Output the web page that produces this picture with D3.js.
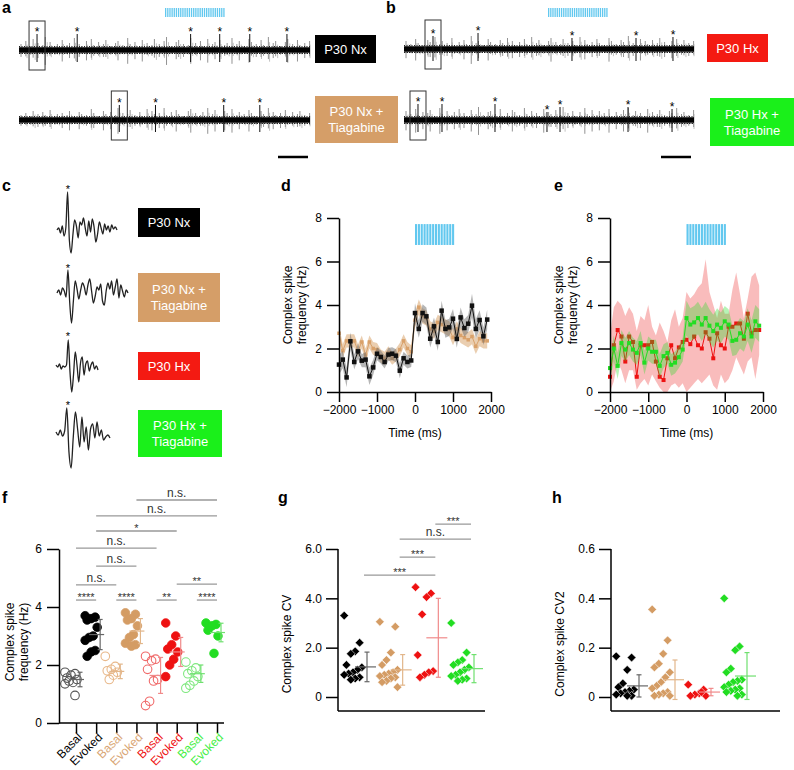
<!DOCTYPE html>
<html><head><meta charset="utf-8">
<script src="https://cdn.jsdelivr.net/npm/d3@7"></script>
<style>body{margin:0;background:#fff}</style>
</head><body>
<script>
// ---------------- DATA ----------------
// Panel a/b: raw traces (simple-spike amplitudes per slot, complex-spike times in ms, cs heights)
const traceNxAmps=[6,9,4,11,7,5,13,8,4,6,10,5,7,12,6,4,9,11,5,8,6,10,4,7,9,5,12,6,8,4,10,7,5,11,6,9,13,4,8,10,6,5,12,7,9,4,11,6,8,10,5,7,12,6,9,4,11,8,6,10,5,13,7,9,4,8,11,6,10,5,7,9];
const traceNxTAmps=[5,7,4,9,6,8,5,10,4,6,7,5,9,4,8,6,5,11,7,4,9,6,8,5,12,7,6,10,5,8,4,11,9,6,7,12,5,8,10,6,4,9,11,7,5,8,12,6,10,4,9,7,11,5,8,6,10,7,4,9,6,12,8,5,7,10,4,8,6,9,5,7];
const traceHxAmps=[8,5,10,6,4,9,7,12,5,8,6,11,4,7,9,5,13,6,8,4,10,7,5,9,6,11,8,4,7,10,5,12,6,9,4,8,11,7,5,10,6,8,4,12,9,5,7,10,6,4,11,8,5,9,7,13,6,4,10,8,5,9,6,11,7,4,8,10,5,9,6,8];
const traceHxTAmps=[9,6,11,5,8,7,10,4,12,6,9,5,8,11,7,4,10,6,13,5,8,9,6,11,4,7,10,8,5,12,6,9,7,4,11,8,6,10,5,13,7,9,4,8,12,6,10,5,9,7,11,4,8,6,10,12,5,9,7,4,11,8,6,10,5,9,7,12,6,8,5,10];
const csNxTimes=[248,800,2359,2759,3172,3683], csNxH=[21,21,21,21,21,21];
const csNxTTimes=[1379,1876,2814,3310], csNxTH=[20,20,20,20];
const csHxTimes=[400,1021,2317,3200,3710], csHxH=[18,21,16,16,17];
const csHxTTimes=[193,524,1255,1972,2152,3090,3697], csHxTH=[21,21,21,13,18,18,16];
const stimTrainTrace=[0,30,60,90,120,150,180,210,240,270,300,330,360,390,420,450,480,510,540,570,600,630,660,690,720,750,780,810];

// Panel c: averaged complex spike waveforms (arbitrary units)
const wfNx=[0,2,-3,4,-6,2,38,-10,-23,-5,10,4,-8,8,5,12,2,-6,9,-2,11,3,-12,-4,8,2,-4,6,0,4,-2,5,1,3,0];
const wfNxT=[0,3,-2,5,2,-4,23,-10,-30,-8,12,4,-6,3,10,6,-2,8,14,2,-10,-3,6,3,9,-8,-12,2,10,4,12,-2,6,14,-5,8,2,-4,3,0];
const wfHx=[2,0,3,-2,1,0,2,27,-5,-25,-8,15,2,-15,4,10,-8,3,6,-4,2,5,-2,1,-3];
const wfHxT=[0,-3,2,-4,1,24,-20,-36,-5,20,3,-15,15,-10,5,-18,3,8,-6,10,-4,2,-8,-5,-3,-6];

// Panels d/e: PSTH
const psthTimes=[-2000,-1900,-1800,-1700,-1600,-1500,-1400,-1300,-1200,-1100,-1000,-900,-800,-700,-600,-500,-400,-300,-200,-100,0,100,200,300,400,500,600,700,800,900,1000,1100,1200,1300,1400,1500,1600,1700,1800,1900];
const stimTrainPsth=[0,75,150,225,300,375,450,525,600,675,750,825,900,975];
const nxMean=[1.26,1.49,0.67,2.33,1.38,1.87,1.44,1.49,0.72,1.13,1.76,1.61,1.38,1.72,1.76,1.67,0.98,1.55,1.38,1.45,3.63,2.9,3.63,3.48,2.45,3.02,2.3,3.74,2.9,2.97,3.37,2.44,3.43,2.94,3.14,3.97,2.9,3.31,2.56,3.33];
const nxSem=[0.45,0.4,0.45,0.4,0.35,0.35,0.3,0.35,0.4,0.35,0.3,0.3,0.3,0.3,0.3,0.3,0.35,0.3,0.3,0.3,0.45,0.4,0.4,0.4,0.4,0.4,0.4,0.45,0.4,0.4,0.45,0.4,0.45,0.4,0.4,0.55,0.45,0.45,0.4,0.45];
const nxTMean=[2.7,1.9,2.35,2.35,2.35,1.9,2.3,1.7,2.3,2.0,1.95,1.65,1.55,1.8,1.55,1.7,1.95,2.35,2.0,1.85,3.3,3.9,3.5,3.4,2.9,2.8,3.2,3.1,3.0,2.9,2.5,2.9,2.6,2.5,2.4,2.55,2.1,2.45,2.35,2.35];
const nxTSem=[0.35,0.3,0.3,0.3,0.3,0.3,0.3,0.3,0.3,0.3,0.3,0.3,0.3,0.3,0.3,0.3,0.3,0.3,0.3,0.3,0.35,0.35,0.35,0.35,0.35,0.35,0.35,0.35,0.35,0.35,0.35,0.35,0.35,0.35,0.35,0.35,0.35,0.35,0.35,0.35];
const hxMean=[0.7,2.15,2.85,2.55,1.4,2.55,2.3,0.7,2.15,2.15,2.15,2.3,1.4,0.7,0.55,1.55,2.15,1.55,2.05,2.3,2.4,2.2,2.55,2.15,2.0,2.75,2.45,1.55,2.7,2.15,2.0,3.0,3.0,3.15,3.15,2.45,3.6,2.7,2.85,2.85];
const hxUpper=[2.6,3.9,4.2,4.0,3.5,3.9,3.6,2.8,3.5,3.3,4.0,3.0,2.6,3.2,2.8,2.3,3.3,3.8,3.0,3.4,4.6,4.3,4.5,4.8,5.0,6.1,4.6,4.0,3.4,4.2,3.6,3.6,4.7,5.5,4.5,3.4,4.3,5.3,5.5,4.9];
const hxLower=[0,0.5,1.4,1.0,0.4,1.0,1.0,0.1,0.4,0.6,0.3,0.8,0.5,0.2,0,0,0.3,0.4,0.2,0.4,0,0.2,0.4,0.6,0.4,0.6,0.8,0.3,0.1,0.8,0.4,0.6,1.0,1.6,1.2,0.8,1.4,1.6,0.6,1.7];
const hxTMean=[1.1,2.0,1.2,2.25,1.95,2.25,1.95,1.8,2.25,1.35,2.0,1.85,1.85,1.2,1.65,1.8,1.25,1.35,1.6,1.95,3.4,3.1,3.2,3.4,3.1,3.4,3.05,2.8,3.1,2.95,3.25,3.1,2.35,2.4,2.7,2.55,3.1,2.55,3.25,3.05];
const hxTSem=[0.6,0.6,0.6,0.6,0.55,0.55,0.55,0.55,0.55,0.55,0.55,0.55,0.55,0.55,0.55,0.5,0.5,0.5,0.5,0.55,0.8,0.75,0.75,0.75,0.75,0.75,0.75,0.75,0.75,0.7,0.7,0.7,0.7,0.7,0.7,0.7,0.75,0.75,0.75,0.75];

// Panel f: complex spike frequency
const fCats=["Basal","Evoked","Basal","Evoked","Basal","Evoked","Basal","Evoked"];
const fValues=[
 [1.75,1.7,1.65,1.55,1.5,1.4,1.45,1.35,0.95],
 [3.7,3.65,3.6,3.55,3.3,3.0,2.95,2.85,2.5,2.45,2.3],
 [2.3,1.95,1.85,1.8,1.75,1.65,1.5],
 [3.8,3.75,3.6,3.55,3.35,3.05,2.95,2.75,2.7,2.65],
 [2.3,2.2,2.15,1.85,1.5,1.45,0.75,0.6],
 [3.45,3.0,2.7,2.55,2.45,2.2,2.0,1.6],
 [2.1,1.9,1.8,1.7,1.6,1.45,1.3,1.2],
 [3.45,3.4,3.35,3.2,3.0,2.4]];
const fMean=[1.5,3.05,1.78,3.17,1.64,2.45,1.7,3.12];
const fSD=[0.25,0.52,0.25,0.43,0.62,0.5,0.3,0.32];
const fSig=[[0,1,4.24,"****"],[2,3,4.24,"****"],[4,5,4.24,"**"],[6,7,4.24,"****"],[0,2,4.76,"n.s."],[5,7,4.79,"**"],[1,3,5.41,"n.s."],[0,4,6.03,"n.s."],[1,5,6.62,"*"],[1,7,7.14,"n.s."],[3,7,7.69,"n.s."]];

// Panel g: CV
const gValues=[
 [3.3,2.2,1.85,1.75,1.3,1.2,1.1,1.0,0.95,0.9,0.8,0.75,0.7],
 [3.05,2.85,1.8,1.5,1.3,1.1,1.0,0.95,0.9,0.85,0.8,0.75,0.65,0.6,0.4],
 [4.45,4.2,4.05,3.35,1.7,1.05,1.0,0.9,0.8],
 [3.0,1.8,1.5,1.4,1.3,1.2,1.1,1.0,0.9,0.85,0.75,0.7,0.65]];
const gMean=[1.22,1.1,2.4,1.15];
const gSD=[0.6,0.62,1.6,0.57];
const gSig=[[0,2,4.94,"***"],[1,2,5.67,"***"],[1,3,6.4,"n.s."],[2,3,7.01,"***"]];

// Panel h: CV2
const hValues=[
 [0.165,0.16,0.11,0.055,0.04,0.03,0.025,0.02,0.015,0.01,0.005,0.005],
 [0.355,0.23,0.175,0.135,0.12,0.1,0.08,0.06,0.045,0.035,0.02,0.015,0.01,0.005,0.005],
 [0.05,0.03,0.015,0.01,0.005,0.005,0.02],
 [0.4,0.205,0.19,0.115,0.1,0.07,0.065,0.06,0.05,0.04,0.035,0.03,0.025,0.02,0.01,0.005]];
const hMean=[0.045,0.07,0.02,0.085];
const hSD=[0.045,0.08,0.015,0.095];

// ---------------- STYLE ----------------
const FONT="'Liberation Sans', Arial, Helvetica, sans-serif";
const COL=["#000000","#d49c64","#ee1111","#22dd22"];
const LABCOL=["#000000","#d9a574","#ee1111","#44ee44"];
const BOXCOL=["#000000","#d59e68","#f41a12","#1af01a"];
const OPENCOL=["#555555","#e8b88a","#f06a6a","#7fe87f"];
const ERRCOL=["#666666","#e2b68a","#f08a8a","#6fe06f"];
const STIM="#62c8ef";

const svg=d3.select("body").append("svg").attr("width",794).attr("height",770)
  .style("font-family",FONT);

function letter(t,x,y){svg.append("text").attr("x",x).attr("y",y).attr("font-size",16).attr("font-weight","bold").text(t);}
function labelBox(x,y,w,h,fill,lines){
  svg.append("rect").attr("x",x).attr("y",y).attr("width",w).attr("height",h).attr("fill",fill);
  const t=svg.append("text").attr("x",x+w/2).attr("text-anchor","middle").attr("fill","#fff").attr("font-size",13);
  const n=lines.length;
  lines.forEach((l,i)=>t.append("tspan").attr("x",x+w/2).attr("y",y+h/2+4.5+(i-(n-1)/2)*16).text(l));
}

// ---------------- PANELS a & b ----------------
function stimBar(x0,x1,y0,y1,train,dur,span){
  const s=d3.scaleLinear([0,span],[x0,x1]);
  svg.append("g").selectAll("rect").data(train).join("rect")
    .attr("x",d=>s(d)).attr("y",y0).attr("width",s(dur)-s(0)).attr("height",y1-y0).attr("fill",STIM);
}
function trace(x0,x1,cy,amps,csT,csH,boxIdx){
  const xs=d3.scaleLinear([0,4000],[x0,x1]);
  const slot=d3.scaleLinear([0,amps.length-1],[x0+2,x1-2]);
  const g=svg.append("g");
  g.selectAll("line.s").data(amps).join("line").attr("class","s")
    .attr("x1",(d,i)=>slot(i)+ (i%3)*0.8).attr("x2",(d,i)=>slot(i)+(i%3)*0.8)
    .attr("y1",d=>cy-d).attr("y2",(d,i)=>cy+d*(i%2?0.7:1.15))
    .attr("stroke","#777").attr("stroke-width",0.8);
  g.selectAll("line.s2").data(amps).join("line").attr("class","s2")
    .attr("x1",(d,i)=>slot(i)+2).attr("x2",(d,i)=>slot(i)+2)
    .attr("y1",d=>cy-d*0.6).attr("y2",(d,i)=>cy+d*(i%2?0.9:0.5))
    .attr("stroke","#999").attr("stroke-width",0.6);
  g.append("line").attr("x1",x0).attr("x2",x1).attr("y1",cy).attr("y2",cy).attr("stroke","#000").attr("stroke-width",5.5);
  g.append("line").attr("x1",x0).attr("x2",x1).attr("y1",cy-3.5).attr("y2",cy-3.5).attr("stroke","#222").attr("stroke-width",1).attr("stroke-dasharray","1,1.5");
  g.append("line").attr("x1",x0).attr("x2",x1).attr("y1",cy+3.5).attr("y2",cy+3.5).attr("stroke","#222").attr("stroke-width",1).attr("stroke-dasharray","1.5,1");
  g.selectAll("line.cs").data(csT).join("line").attr("class","cs")
    .attr("x1",d=>xs(d)).attr("x2",d=>xs(d)).attr("y1",(d,i)=>cy-csH[i]+5).attr("y2",cy+12)
    .attr("stroke","#111").attr("stroke-width",1);
  g.selectAll("text").data(csT).join("text").attr("x",d=>xs(d)).attr("y",(d,i)=>cy-csH[i]+7)
    .attr("text-anchor","middle").attr("font-size",12).text("*");
  g.append("rect").attr("x",xs(csT[boxIdx])-8).attr("y",cy-29).attr("width",16).attr("height",49)
    .attr("fill","none").attr("stroke","#333").attr("stroke-width",1);
}
letter("a",2,13); letter("b",386,13);
stimBar(165,224,8,17,stimTrainTrace,18,820);
stimBar(548,607,8,17,stimTrainTrace,18,820);
trace(19,310,50,traceNxAmps,csNxTimes,csNxH,0);
trace(19,310,120,traceNxTAmps,csNxTTimes,csNxTH,0);
trace(404,694,49,traceHxAmps,csHxTimes,csHxH,0);
trace(404,694,120,traceHxTAmps,csHxTTimes,csHxTH,0);
labelBox(315,35,61,28,BOXCOL[0],["P30 Nx"]);
labelBox(315,96,83,47,BOXCOL[1],["P30 Nx +","Tiagabine"]);
labelBox(707,34,61,28,BOXCOL[2],["P30 Hx"]);
labelBox(710,98,84,48,BOXCOL[3],["P30 Hx +","Tiagabine"]);
svg.append("line").attr("x1",278).attr("x2",308).attr("y1",157).attr("y2",157).attr("stroke","#000").attr("stroke-width",2.5);
svg.append("line").attr("x1",661).attr("x2",691).attr("y1",157).attr("y2",157).attr("stroke","#000").attr("stroke-width",2.5);

// ---------------- PANEL c ----------------
letter("c",2,191);
function waveform(arr,x0,x1,cy,starY){
  const xs=d3.scaleLinear([0,arr.length-1],[x0,x1]);
  const ys=d3.scaleLinear([-40,40],[cy+40,cy-40]);
  svg.append("path").attr("d",d3.line().curve(d3.curveMonotoneX).x((d,i)=>xs(i)).y(d=>ys(d))(arr))
    .attr("fill","none").attr("stroke","#222").attr("stroke-width",1.3).attr("stroke-linejoin","round");
  svg.append("text").attr("x",68).attr("y",starY).attr("text-anchor","middle").attr("font-size",11).text("*");
}
waveform(wfNx,57,117,230,193);
waveform(wfNxT,57,128,293,272);
waveform(wfHx,56,98,367,340);
waveform(wfHxT,56,110,432,409);
labelBox(138,208,62,29,BOXCOL[0],["P30 Nx"]);
labelBox(138,273,82,49,BOXCOL[1],["P30 Nx +","Tiagabine"]);
labelBox(138,352,62,28,BOXCOL[2],["P30 Hx"]);
labelBox(138,410,84,47,BOXCOL[3],["P30 Hx +","Tiagabine"]);

// ---------------- PANELS d & e ----------------
function styleAxis(g){
  g.selectAll(".domain").attr("stroke","#000").attr("stroke-width",1.5);
  g.selectAll(".tick line").attr("stroke","#000").attr("stroke-width",1.5);
  g.selectAll(".tick text").attr("font-family",FONT).attr("font-size",12).attr("fill","#000");
}
function psthPanel(x0,x1,series){
  const x=d3.scaleLinear([-2000,2000],[x0,x1]);
  const y=d3.scaleLinear([0,8],[392,218]);
  const g=svg.append("g");
  g.selectAll("rect.stim").data(stimTrainPsth).join("rect").attr("class","stim")
    .attr("x",d=>x(d)).attr("y",y(7.72)).attr("width",x(55)-x(0)).attr("height",y(6.76)-y(7.72)).attr("fill",STIM);
  series.forEach(s=>{
    const area=d3.area().x((d,i)=>x(psthTimes[i])).y0((d,i)=>y(s.lo(i))).y1((d,i)=>y(s.hi(i)));
    g.append("path").attr("d",area(s.v)).attr("fill",s.band).attr("opacity",s.op);
    g.append("path").attr("d",d3.line().x((d,i)=>x(psthTimes[i])).y(d=>y(d))(s.v))
      .attr("fill","none").attr("stroke",s.col).attr("stroke-width",1);
    g.selectAll(null).data(s.v).join("rect").attr("x",(d,i)=>x(psthTimes[i])-s.sz/2).attr("y",d=>y(d)-s.sz/2)
      .attr("width",s.sz).attr("height",s.sz).attr("fill",s.col);
  });
  const ax=svg.append("g").attr("transform",`translate(${x0},0)`)
    .call(d3.axisLeft(y).tickValues([0,2,4,6,8]).tickFormat(d3.format("d")).tickSize(12).tickPadding(5).tickSizeOuter(0));
  styleAxis(ax);
  const bx=svg.append("g").attr("transform","translate(0,392)")
    .call(d3.axisBottom(x).tickValues([-2000,-1000,0,1000,2000]).tickFormat(d3.format("d")).tickSize(10).tickPadding(3).tickSizeOuter(0));
  styleAxis(bx);
  svg.append("text").attr("x",(x0+x1)/2).attr("y",437).attr("text-anchor","middle").attr("font-size",12).text("Time (ms)");
  const lab=svg.append("text").attr("transform",`translate(${x0-47},305) rotate(-90)`).attr("text-anchor","middle").attr("font-size",12);
  lab.append("tspan").attr("x",0).attr("y",0).text("Complex spike");
  lab.append("tspan").attr("x",0).attr("y",14).text("frequency (Hz)");
}
letter("d",281,191); letter("e",554,191);
psthPanel(339,491,[
  {v:nxTMean,lo:i=>nxTMean[i]-nxTSem[i],hi:i=>nxTMean[i]+nxTSem[i],band:"#dcae7c",op:0.6,col:"#d9a16a",sz:3.5},
  {v:nxMean,lo:i=>nxMean[i]-nxSem[i],hi:i=>nxMean[i]+nxSem[i],band:"#6e6e6e",op:0.5,col:"#111",sz:4.5}
]);
psthPanel(610,763,[
  {v:hxMean,lo:i=>hxLower[i],hi:i=>hxUpper[i],band:"#f8b0b0",op:0.85,col:"#ee1111",sz:4},
  {v:hxTMean,lo:i=>hxTMean[i]-hxTSem[i],hi:i=>hxTMean[i]+hxTSem[i],band:"#22dd22",op:0.33,col:"#22dd22",sz:4}
]);

// ---------------- helper for dot plots ----------------
function errBar(g,cx,m,s,y,col,capW,l,r){
  g.append("line").attr("x1",cx).attr("x2",cx).attr("y1",y(m-s)).attr("y2",y(m+s)).attr("stroke",col).attr("stroke-width",1.2);
  [m-s,m+s].forEach(v=>g.append("line").attr("x1",cx-capW).attr("x2",cx+capW).attr("y1",y(v)).attr("y2",y(v)).attr("stroke",col).attr("stroke-width",1.2));
  g.append("line").attr("x1",cx-l).attr("x2",cx+r).attr("y1",y(m)).attr("y2",y(m)).attr("stroke",col).attr("stroke-width",1.2);
}
function sigBar(g,xa,xb,yy,txt){
  g.append("line").attr("x1",xa).attr("x2",xb).attr("y1",yy).attr("y2",yy).attr("stroke","#999").attr("stroke-width",1.3);
  const isStar=txt.indexOf("*")>=0;
  g.append("text").attr("x",(xa+xb)/2).attr("y",isStar?yy+1:yy-3).attr("text-anchor","middle")
    .attr("font-size",isStar?11:12).attr("fill","#333").text(txt);
}

// ---------------- PANEL f ----------------
letter("f",2,503);
{
  const keys=fCats.map((c,i)=>i+"");
  const x=d3.scalePoint(keys,[76,217]);
  const y=d3.scaleLinear([0,6],[723,549]);
  const g=svg.append("g");
  fValues.forEach((vals,k)=>{
    const grp=Math.floor(k/2), open=k%2===0;
    const cx=x(k+"");
    g.selectAll(null).data(vals).join("circle")
      .attr("cx",(d,i)=>cx-5+((i*5)%7-3)*2).attr("cy",d=>y(d)).attr("r",4.3)
      .attr("fill",open?"none":COL[grp]).attr("stroke",open?OPENCOL[grp]:COL[grp]).attr("stroke-width",open?1.1:0.8);
    errBar(g,cx+4,fMean[k],fSD[k],y,ERRCOL[grp],2.5,11,4);
  });
  fSig.forEach(([a,b,v,t])=>sigBar(g,x(a+""),x(b+""),y(v),t));
  const ax=svg.append("g").attr("transform","translate(59,0)")
    .call(d3.axisLeft(y).tickValues([0,2,4,6]).tickFormat(d3.format("d")).tickSize(12).tickPadding(5).tickSizeOuter(0));
  styleAxis(ax);
  const bx=svg.append("g").attr("transform","translate(0,723)")
    .call(d3.axisBottom(x).tickSize(10).tickFormat(""));
  styleAxis(bx);
  bx.select(".domain").attr("d","M59,0H224");
  keys.forEach((k,i)=>{
    svg.append("text").attr("transform",`translate(${x(k)+4},735) rotate(-45)`).attr("text-anchor","end")
      .attr("dy","0.35em").attr("font-size",12).attr("fill",LABCOL[Math.floor(i/2)]).text(fCats[i]);
  });
  const lab=svg.append("text").attr("transform","translate(14,642) rotate(-90)").attr("text-anchor","middle").attr("font-size",12);
  lab.append("tspan").attr("x",0).attr("y",0).text("Complex spike");
  lab.append("tspan").attr("x",0).attr("y",14).text("frequency (Hz)");
}

// ---------------- PANELS g & h ----------------
function diamondPanel(axisX,xEnd,cats,values,means,sds,yDomain,ticks,fmt,title,sig){
  const y=d3.scaleLinear(yDomain,[697,549]);
  const x=d3.scalePoint(["0","1","2","3"],cats);
  const g=svg.append("g");
  const sym=d3.symbol().type(d3.symbolSquare).size(38);
  values.forEach((vals,k)=>{
    const cx=x(k+"");
    g.selectAll(null).data(vals).join("path").attr("d",sym)
      .attr("transform",(d,i)=>`translate(${cx+((i*7)%9-4)*2.2},${y(d)}) rotate(45)`)
      .attr("fill",COL[k]).attr("stroke","#fff").attr("stroke-width",0.5);
    errBar(g,cx+14,means[k],sds[k],y,ERRCOL[k],2.5,12,9);
  });
  if(sig) sig.forEach(([a,b,v,t])=>sigBar(g,x(a+"")+11,x(b+"")+11,y(v),t));
  const ax=svg.append("g").attr("transform",`translate(${axisX},0)`)
    .call(d3.axisLeft(y).tickValues(ticks).tickFormat(fmt).tickSize(12).tickPadding(4).tickSizeOuter(0));
  styleAxis(ax);
  ax.select(".domain").attr("d",`M0,${y(yDomain[1])}V711`);
  svg.append("line").attr("x1",axisX).attr("x2",xEnd).attr("y1",711).attr("y2",711).attr("stroke","#000").attr("stroke-width",1.5);
  svg.append("text").attr("transform",`translate(${axisX-47},644) rotate(-90)`).attr("text-anchor","middle").attr("font-size",12).text(title);
}
letter("g",278,503); letter("h",552,503);
diamondPanel(338,485,[353,460],gValues,gMean,gSD,[0,6],[0,2,4,6],d=>d===0?"0":d3.format(".1f")(d),"Complex spike CV",gSig);
diamondPanel(611,780,[625,733],hValues,hMean,hSD,[0,0.6],[0,0.2,0.4,0.6],d=>d===0?"0":d3.format(".1f")(d),"Complex spike CV2",null);
</script>
</body></html>
